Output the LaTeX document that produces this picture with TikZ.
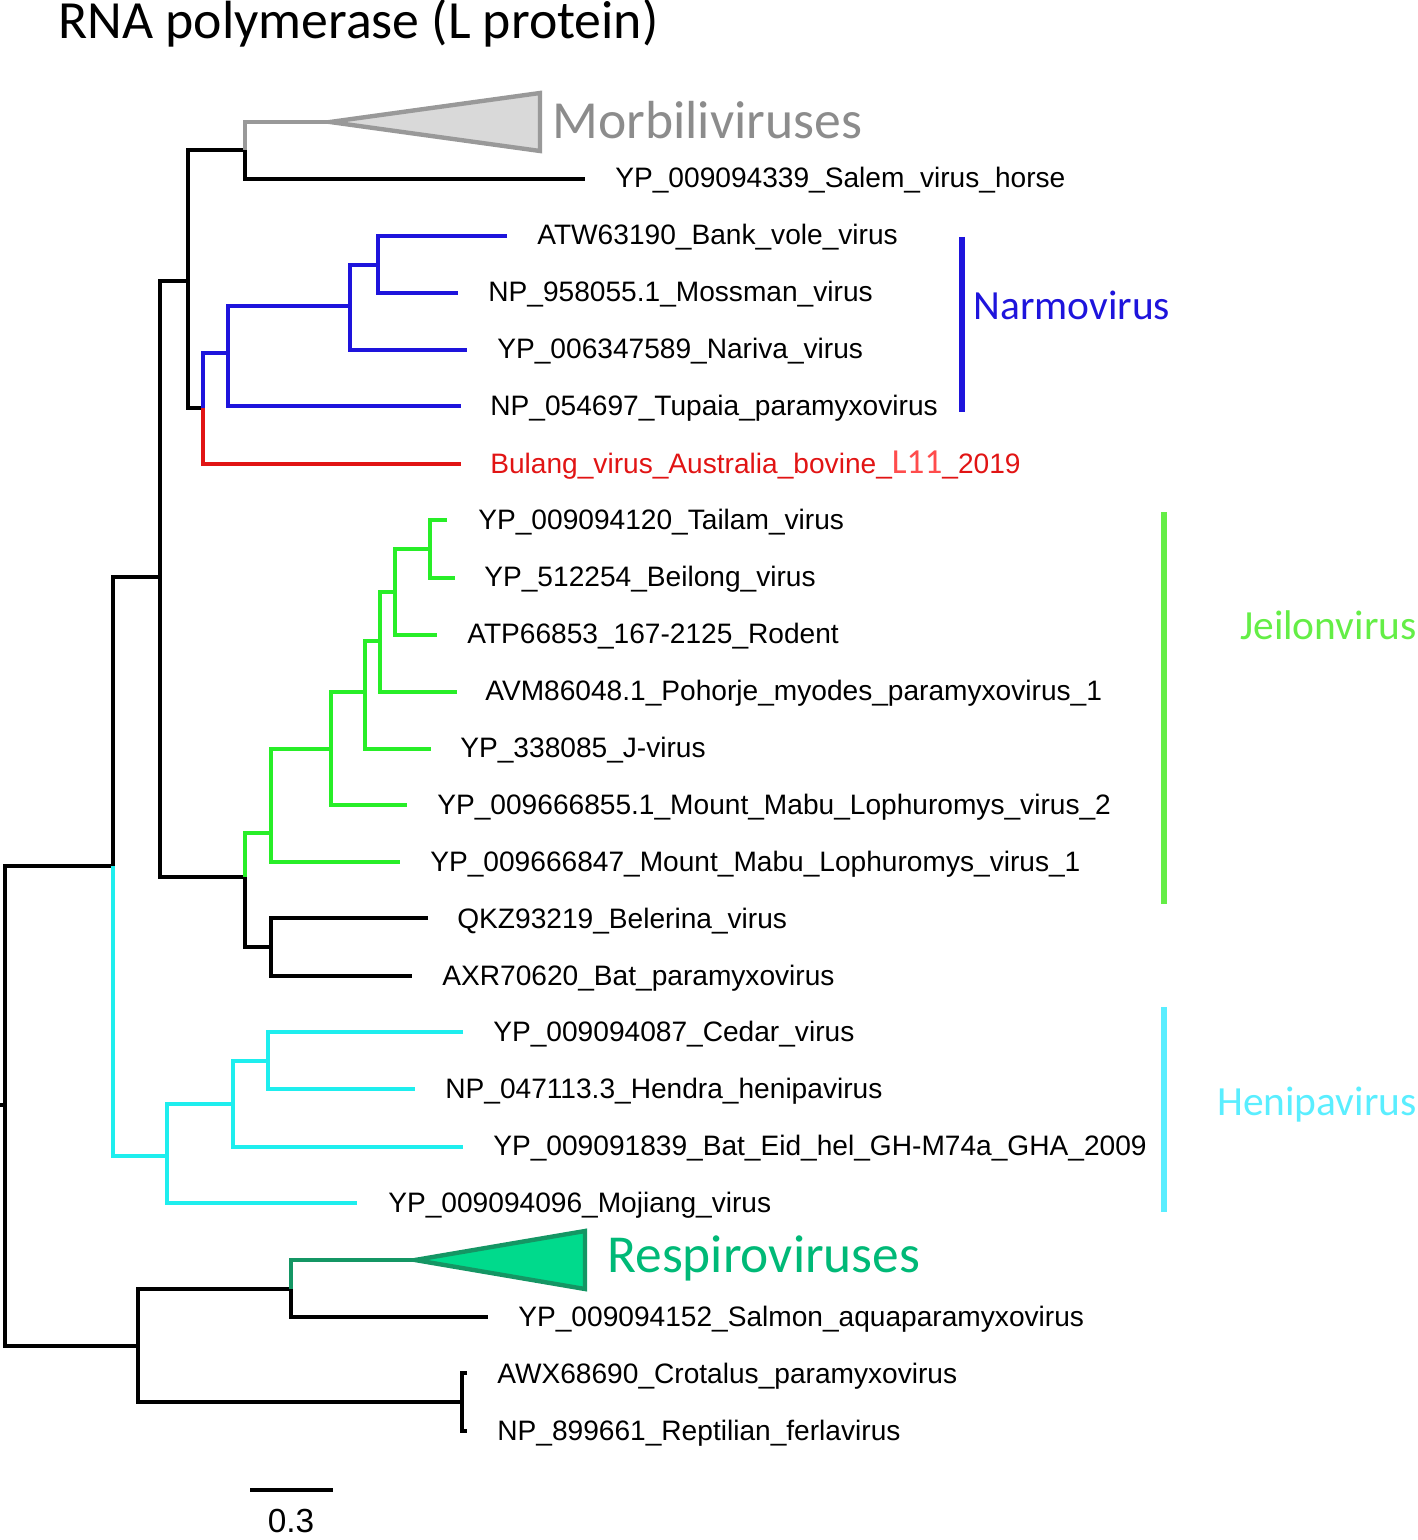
\documentclass[tikz,border=0pt]{standalone}
\usepackage{fontspec}
\setmainfont{Liberation Sans}
\newfontfamily\titlefont{Carlito}
\begin{document}
\begin{tikzpicture}[x=0.02cm,y=-0.02cm,line join=miter,
  br/.style={line width=2.8pt},
  lab/.style={anchor=west,inner sep=0pt,font=\fontsize{16}{18}\selectfont},
  clade/.style={anchor=west,inner sep=0pt,font=\titlefont\fontsize{23.6}{26}\selectfont}]
\useasboundingbox (0,0) rectangle (1417,1540);
\definecolor{cblue}{RGB}{30,20,220}
\definecolor{cred}{RGB}{225,20,20}
\definecolor{cgreen}{RGB}{40,238,40}
\definecolor{ccyan}{RGB}{30,238,238}
\definecolor{dgreen}{RGB}{20,150,100}
\definecolor{tgreen}{RGB}{0,218,140}
\definecolor{lgreen}{RGB}{100,238,70}
\definecolor{lcyan}{RGB}{90,238,255}
\node[anchor=west,inner sep=0pt,font=\titlefont\fontsize{30.6}{33}\selectfont] (title) at (58,23) {RNA polymerase (L protein)};
% root
\draw[br] (0,1105) -- (5,1105);
\draw[br] (113,866) -- (5,866) -- (5,1346) -- (138,1346);
\draw[br] (160,577) -- (113,577) -- (113,866);
\draw[br,ccyan] (113,866) -- (113,1156) -- (167,1156);
\draw[br] (188,281) -- (160,281) -- (160,877) -- (245,877);
\draw[br] (245,150) -- (188,150) -- (188,408) -- (203,408);
\draw[br] (245,122) -- (245,179) -- (585,179);
\draw[br,gray!80] (245,150) -- (245,122) -- (330,122);
\draw[gray!80,fill=gray!30,line width=2.5pt] (330,122) -- (540,93) -- (540,151) -- cycle;
\node[clade,gray!90,font=\titlefont\fontsize{30.5}{33}\selectfont] (morb) at (552,120) {Morbiliviruses};
\node[lab] (salem) at (615,180) {YP\_009094339\_Salem\_virus\_horse};
% narmo
\draw[br,cblue] (203,408) -- (203,353) -- (228,353);
\draw[br,cblue] (350,306) -- (228,306) -- (228,406) -- (461,406);
\draw[br,cblue] (378,265) -- (350,265) -- (350,350) -- (467,350);
\draw[br,cblue] (507,236) -- (378,236) -- (378,293) -- (458,293);
\draw[br,cred] (203,408) -- (203,464) -- (461,464);
\node[lab] (bank) at (537,237) {ATW63190\_Bank\_vole\_virus};
\node[lab] (moss) at (488,294) {NP\_958055.1\_Mossman\_virus};
\node[lab] (nariva) at (497,351) {YP\_006347589\_Nariva\_virus};
\node[lab] (tupaia) at (490,408) {NP\_054697\_Tupaia\_paramyxovirus};
\node[lab,cred] (bulang) at (490,465) {Bulang\_virus\_Australia\_bovine\_{\color{red!70}\titlefont\fontsize{20}{22}\selectfont L11}\_2019};
\draw[line width=3pt,cblue] (962,237) -- (962,412);
\node[clade,cblue] (narmo) at (973,305) {Narmovirus};
% jeilon
\draw[br,cgreen] (245,877) -- (245,833) -- (271,833);
\draw[br] (245,877) -- (245,947) -- (271,947);
\draw[br,cgreen] (331,749) -- (271,749) -- (271,862) -- (400,862);
\draw[br,cgreen] (365,692) -- (331,692) -- (331,805) -- (407,805);
\draw[br,cgreen] (380,641) -- (365,641) -- (365,749) -- (431,749);
\draw[br,cgreen] (395,592) -- (380,592) -- (380,692) -- (457,692);
\draw[br,cgreen] (430,549) -- (395,549) -- (395,635) -- (437,635);
\draw[br,cgreen] (447,520) -- (430,520) -- (430,578) -- (455,578);
\draw[br] (428,918) -- (271,918) -- (271,976) -- (412,976);
\node[lab] (tailam) at (478,522) {YP\_009094120\_Tailam\_virus};
\node[lab] (beil) at (484,579) {YP\_512254\_Beilong\_virus};
\node[lab] (atp) at (467,636) {ATP66853\_167-2125\_Rodent};
\node[lab] (avm) at (485,693) {AVM86048.1\_Pohorje\_myodes\_paramyxovirus\_1};
\node[lab] (jv) at (460,750) {YP\_338085\_J-virus};
\node[lab] (mm2) at (437,807) {YP\_009666855.1\_Mount\_Mabu\_Lophuromys\_virus\_2};
\node[lab] (mm1) at (430,864) {YP\_009666847\_Mount\_Mabu\_Lophuromys\_virus\_1};
\node[lab] (bel) at (457,921) {QKZ93219\_Belerina\_virus};
\node[lab] (batp) at (442,978) {AXR70620\_Bat\_paramyxovirus};
\draw[line width=3pt,lgreen] (1164,512) -- (1164,904);
\node[clade,lgreen,anchor=east] (jeil) at (1417,625) {Jeilonvirus};
% heni
\draw[br,ccyan] (233,1104) -- (167,1104) -- (167,1203) -- (357,1203);
\draw[br,ccyan] (268,1061) -- (233,1061) -- (233,1147) -- (463,1147);
\draw[br,ccyan] (463,1032) -- (268,1032) -- (268,1089) -- (415,1089);
\node[lab] (cedar) at (493,1034) {YP\_009094087\_Cedar\_virus};
\node[lab] (hendra) at (445,1091) {NP\_047113.3\_Hendra\_henipavirus};
\node[lab] (eid) at (493,1148) {YP\_009091839\_Bat\_Eid\_hel\_GH-M74a\_GHA\_2009};
\node[lab] (moj) at (388,1205) {YP\_009094096\_Mojiang\_virus};
\draw[line width=3pt,lcyan] (1164,1007) -- (1164,1212);
\node[clade,lcyan,anchor=east] (heni) at (1417,1105) {Henipavirus};
% bottom
\draw[br] (291,1289) -- (138,1289) -- (138,1402) -- (462,1402);
\draw[br] (291,1289) -- (291,1317) -- (488,1317);
\draw[br,dgreen] (291,1289) -- (291,1260) -- (415,1260);
\draw[dgreen,fill=tgreen,line width=2.5pt] (415,1260) -- (585,1231) -- (585,1289) -- cycle;
\node[clade,tgreen!85!black,font=\titlefont\fontsize{30.4}{33}\selectfont] (resp) at (607,1258) {Respiroviruses};
\draw[br] (467,1373) -- (462,1373) -- (462,1431) -- (467,1431);
\node[lab] (salmon) at (518,1319) {YP\_009094152\_Salmon\_aquaparamyxovirus};
\node[lab] (crot) at (497,1376) {AWX68690\_Crotalus\_paramyxovirus};
\node[lab] (rept) at (497,1433) {NP\_899661\_Reptilian\_ferlavirus};
% scale
\draw[line width=2.5pt] (250,1490) -- (333,1490);
\node[inner sep=0pt,font=\fontsize{19}{21}\selectfont] (sc) at (291,1521) {0.3};
\end{tikzpicture}
\end{document}
